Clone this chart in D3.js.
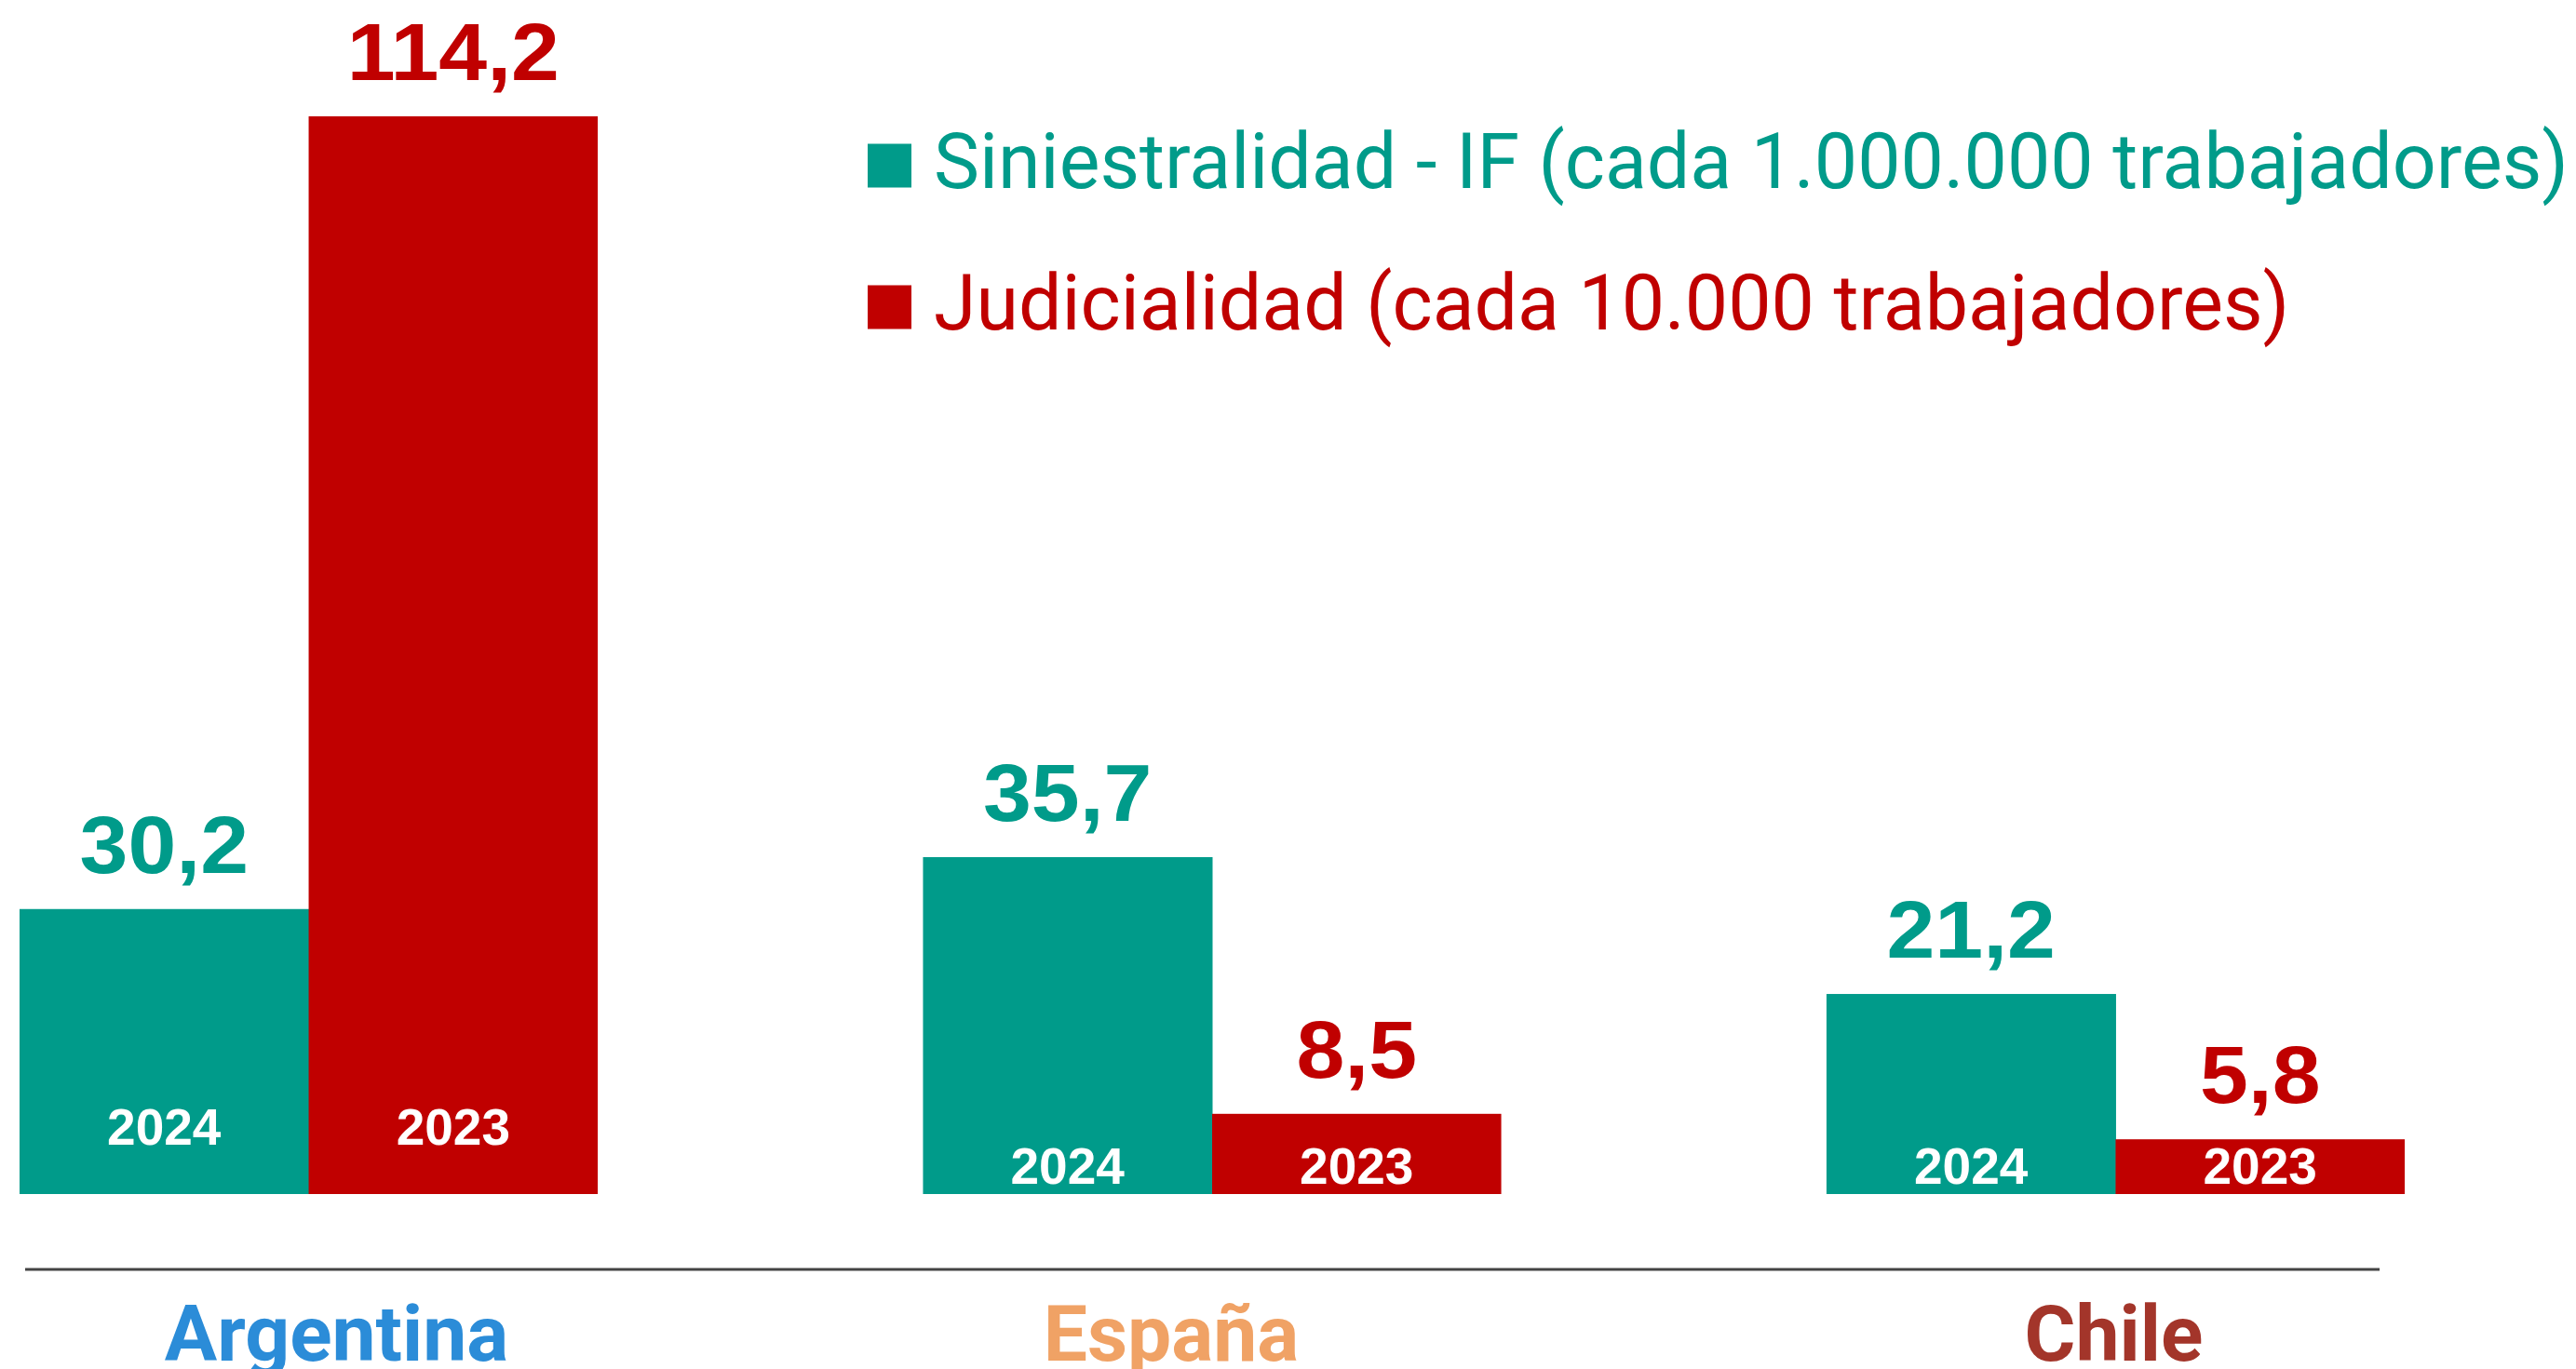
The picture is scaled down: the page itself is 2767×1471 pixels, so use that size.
<!DOCTYPE html>
<html>
<head>
<meta charset="utf-8">
<script src="https://cdn.jsdelivr.net/npm/d3@7"></script>
<style>
  html, body { margin: 0; padding: 0; background: #ffffff; overflow: hidden; }
  svg { display: block; }
</style>
</head>
<body>
<svg id="chart" width="2767" height="1471"></svg>
<script>
// ---- data ----
const categories = ["Argentina", "España", "Chile"];
const seriesNames = ["Siniestralidad - IF (cada 1.000.000 trabajadores)", "Judicialidad (cada 10.000 trabajadores)"];
const siniestralidad = [30.2, 35.7, 21.2];
const judicialidad = [114.2, 8.5, 5.8];
const yearLabels = ["2024", "2023"];
const categoryColors = ["#2B8CD8", "#F0A265", "#A3352A"];
const seriesColors = ["#009B8A", "#C00000"];

// ---- layout ----
const W = 2767, H = 1471;
const baseY = 1283;
const svg = d3.select("#chart");

const x0 = d3.scaleBand().domain(categories).range([21, 2583]).paddingInner(0.36).paddingOuter(0);
const x1 = d3.scaleBand().domain([0, 1]).range([0, x0.bandwidth()]).padding(0);
const y = d3.scaleLinear().domain([0, 114.2]).range([baseY, 125]);

const fmt = v => v.toFixed(1).replace(".", ",");

const rows = categories.map((c, i) => ({
  cat: c, i,
  vals: [siniestralidad[i], judicialidad[i]]
}));

const g = svg.selectAll("g.grp").data(rows).join("g")
  .attr("class", "grp")
  .attr("transform", d => `translate(${x0(d.cat)},0)`);

g.each(function(d) {
  const grp = d3.select(this);
  const minH = Math.min(...d.vals.map(v => baseY - y(v)));
  const lift = minH > 150 ? 53 : 11;
  d.vals.forEach((v, s) => {
    grp.append("rect")
      .attr("x", x1(s))
      .attr("y", y(v))
      .attr("width", x1.bandwidth() + (s === 0 ? 0.5 : 0))
      .attr("height", baseY - y(v))
      .attr("fill", seriesColors[s]);
    const cx = x1(s) + x1.bandwidth() / 2;
    grp.append("text")
      .attr("transform", `translate(${cx},${y(v) - 39}) scale(1.06,1)`)
      .attr("text-anchor", "middle")
      .attr("font-family", "'Liberation Sans', Arial, sans-serif")
      .attr("font-weight", "bold")
      .attr("font-size", 88)
      .attr("fill", seriesColors[s])
      .text(fmt(v));
    grp.append("text")
      .attr("x", cx)
      .attr("y", baseY - lift)
      .attr("text-anchor", "middle")
      .attr("font-family", "'Liberation Sans', Arial, sans-serif")
      .attr("font-weight", "bold")
      .attr("font-size", 55)
      .attr("fill", "#ffffff")
      .text(yearLabels[s]);
  });
});

// axis line
svg.append("line")
  .attr("x1", 27).attr("x2", 2556)
  .attr("y1", 1364).attr("y2", 1364)
  .attr("stroke", "#444444").attr("stroke-width", 3);

// category labels
const labelShift = [30, -44, -2];
svg.selectAll("text.cat").data(categories).join("text")
  .attr("class", "cat")
  .attr("x", (d, i) => x0(d) + x0.bandwidth() / 2 + labelShift[i])
  .attr("y", 1462)
  .attr("text-anchor", "middle")
  .attr("font-family", "Roboto, 'Noto Sans', sans-serif")
  .attr("font-weight", "bold")
  .attr("font-size", 84)
  .attr("fill", (d, i) => categoryColors[i])
  .text(d => d);

// legend
const legendY = [178, 330];
seriesNames.forEach((name, s) => {
  svg.append("rect")
    .attr("x", 932).attr("y", legendY[s] - 23.5)
    .attr("width", 47).attr("height", 47)
    .attr("fill", seriesColors[s]);
  svg.append("text")
    .attr("x", 1003).attr("y", legendY[s] + 24)
    .attr("font-family", "Roboto, 'Noto Sans', sans-serif")
    .attr("font-size", 82.5)
    .attr("fill", seriesColors[s])
    .text(name);
});
</script>
</body>
</html>
